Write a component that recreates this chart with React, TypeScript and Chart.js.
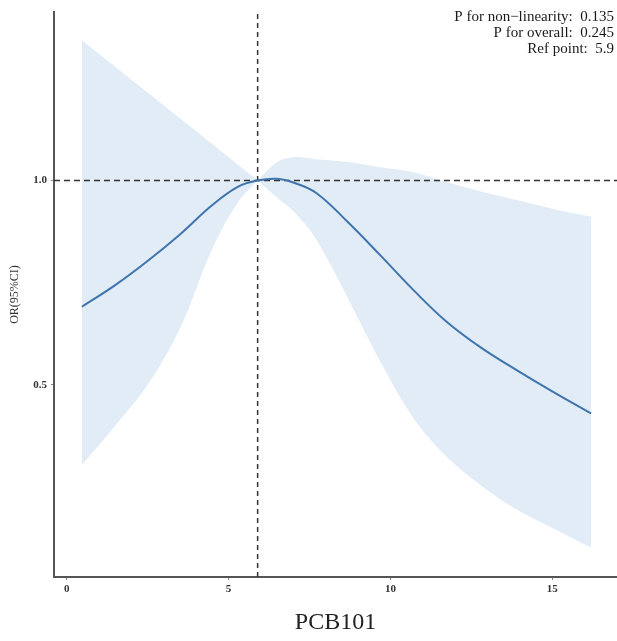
import React, { useEffect, useRef } from "react";
import { Chart, registerables } from "chart.js";

Chart.register(...registerables);

// Exposure grid (PCB101) and spline estimates
const xValues = [0.47, 1.5, 2.5, 3.5, 4.5, 5.3, 5.9, 6.5, 7.0, 7.7, 8.7, 9.7, 10.7, 11.7, 12.8, 13.9, 15.0, 16.2];
const orEstimate = [0.691, 0.744, 0.803, 0.868, 0.94, 0.985, 1.0, 1.004, 0.995, 0.97, 0.897, 0.816, 0.733, 0.657, 0.591, 0.536, 0.484, 0.43];
const orLower = [0.304, 0.4, 0.5, 0.638, 0.833, 0.948, 1.0, 0.958, 0.925, 0.857, 0.71, 0.555, 0.42, 0.327, 0.254, 0.195, 0.15, 0.102];
const orUpper = [1.343, 1.278, 1.215, 1.152, 1.089, 1.038, 1.0, 1.045, 1.057, 1.052, 1.045, 1.032, 1.02, 0.997, 0.973, 0.952, 0.931, 0.911];

const xTicks = [0, 5, 10, 15];
const yTicks = [0.5, 1.0];
const xRange = [-0.39, 17.0];
const yRange = [0.03, 1.412];
const refPoint = 5.9;
const refOR = 1.0;
const annotationLines = ["P for non\u2212linearity:  0.135", "P for overall:  0.245", "Ref point:  5.9"];

const SERIF = '"Liberation Serif", "DejaVu Serif", "Times New Roman", serif';

export default function App() {
  const ref = useRef<HTMLCanvasElement | null>(null);

  useEffect(() => {
    if (!ref.current) return;
    const pts = (ys: number[]) => xValues.map((x, i) => ({ x, y: ys[i] }));
    const refIdx = xValues.indexOf(refPoint);
    const left = (ys: number[]) => pts(ys).slice(0, refIdx + 1);
    const right = (ys: number[]) => pts(ys).slice(refIdx);

    const bandFill = "rgba(198,219,239,0.52)";
    const edge = (data: any[], fill: any) => ({
      data,
      borderWidth: 0,
      borderColor: "rgba(0,0,0,0)",
      backgroundColor: bandFill,
      pointRadius: 0,
      fill,
      tension: 0.35,
      order: 10,
    });

    const annotationPlugin = {
      id: "annot",
      afterDraw(chart: any) {
        const ctx = chart.ctx;
        ctx.save();
        ctx.font = `15px ${SERIF}`;
        ctx.fillStyle = "#1a1a1a";
        ctx.textAlign = "right";
        ctx.textBaseline = "middle";
        annotationLines.forEach((t, i) => {
          ctx.fillText(t, 614, 17 + i * 16);
        });
        ctx.restore();
      },
    };

    const chart = new Chart(ref.current, {
      type: "line",
      data: {
        datasets: [
          { label: "lowerL", ...edge(left(orLower), false) },
          { label: "upperL", ...edge(left(orUpper), "-1") },
          { label: "lowerR", ...edge(right(orLower), false) },
          { label: "upperR", ...edge(right(orUpper), "-1") },
          {
            label: "OR",
            data: pts(orEstimate),
            borderColor: "#3f74ad",
            borderWidth: 2,
            pointRadius: 0,
            fill: false,
            tension: 0.4,
            order: 1,
          },
          {
            label: "refH",
            data: [
              { x: xRange[0], y: refOR },
              { x: xRange[1], y: refOR },
            ],
            borderColor: "#333",
            borderWidth: 1.5,
            borderDash: [6, 4],
            pointRadius: 0,
            fill: false,
            order: 2,
          },
          {
            label: "refV",
            data: [
              { x: refPoint, y: yRange[0] },
              { x: refPoint, y: yRange[1] },
            ],
            borderColor: "#333",
            borderWidth: 1.5,
            borderDash: [5, 4],
            pointRadius: 0,
            fill: false,
            order: 2,
          },
        ],
      },
      options: {
        animation: false,
        responsive: true,
        maintainAspectRatio: false,
        layout: { padding: { top: 12, left: 0, right: 0, bottom: 0 } },
        plugins: {
          legend: { display: false },
          tooltip: { enabled: false },
        },
        scales: {
          x: {
            type: "linear",
            min: xRange[0],
            max: xRange[1],
            afterBuildTicks: (s: any) => {
              s.ticks = xTicks.map((v) => ({ value: v }));
            },
            afterFit: (s: any) => {
              s.height = 64;
            },
            ticks: {
              color: "#333",
              padding: 3,
              maxRotation: 0,
              font: { family: SERIF, size: 11, weight: "bold" },
              callback: (v: any) => String(v),
            },
            grid: { display: true, drawOnChartArea: false, drawTicks: true, tickLength: 3, color: "#888" },
            border: { display: true, color: "#555", width: 2 },
            title: {
              display: true,
              text: "PCB101",
              color: "#222",
              font: { family: SERIF, size: 24 },
              padding: { top: 0, bottom: 4 },
            },
          },
          y: {
            type: "linear",
            min: yRange[0],
            max: yRange[1],
            afterBuildTicks: (s: any) => {
              s.ticks = yTicks.map((v) => ({ value: v }));
            },
            afterFit: (s: any) => {
              s.width = 54;
            },
            ticks: {
              color: "#333",
              padding: 4,
              font: { family: SERIF, size: 11, weight: "bold" },
              callback: (v: any) => Number(v).toFixed(1),
            },
            grid: { display: true, drawOnChartArea: false, drawTicks: true, tickLength: 3, color: "#888" },
            border: { display: true, color: "#555", width: 2 },
            title: {
              display: true,
              text: "OR(95%CI)",
              color: "#333",
              font: { family: SERIF, size: 12 },
              padding: { top: 8, bottom: 0 },
            },
          },
        },
      },
      plugins: [annotationPlugin],
    } as any);

    return () => chart.destroy();
  }, []);

  return (
    <div style={{ position: "fixed", left: 0, top: 0, width: 617, height: 641, background: "#fff" }}>
      <canvas ref={ref} />
    </div>
  );
}
